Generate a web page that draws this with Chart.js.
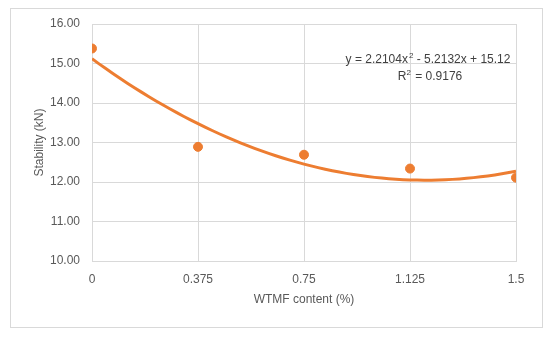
<!DOCTYPE html>
<html>
<head>
<meta charset="utf-8">
<script src="https://cdn.jsdelivr.net/npm/chart.js@4.4.1/dist/chart.umd.min.js"></script>
<style>
  html, body { margin: 0; padding: 0; background: #fff; }
  #wrap { width: 550px; height: 338px; position: relative; }
</style>
</head>
<body>
<div id="wrap"><canvas id="stabilityChart"></canvas></div>
<script>
// Data
const xTicks = [0, 0.375, 0.75, 1.125, 1.5];
const wtmfContent = [0, 0.375, 0.75, 1.125, 1.5];
const stability = [15.38, 12.89, 12.69, 12.34, 12.11];
const yTicks = [10, 11, 12, 13, 14, 15, 16];
// Trendline coefficients as printed on the chart (a, b, c of ax^2 + bx + c)
const trendCoef = [2.2104, -5.2132, 15.12];
const trendLabel = 'y = 2.2104x';
const trendLabelRest = ' - 5.2132x + 15.12';
const r2Label = '0.9176';

const orange = '#ED7D31';
const grey = '#595959';
const fontFamily = "'Liberation Sans', Arial, sans-serif";

// trendline sampled along x through the printed polynomial
const trendPoints = [];
for (let i = 0; i <= 60; i++) {
    const x = 1.5 * i / 60;
    trendPoints.push({ x: x, y: trendCoef[0] * x * x + trendCoef[1] * x + trendCoef[2] });
}

const framePlugin = {
    id: 'frame',
    beforeDraw(chart) {
        const ctx = chart.ctx;
        ctx.save();
        ctx.fillStyle = '#fff';
        ctx.fillRect(0, 0, chart.width, chart.height);
        ctx.strokeStyle = '#d9d9d9';
        ctx.lineWidth = 1;
        ctx.strokeRect(10.5, 8.5, 532, 319);
        ctx.restore();
    },
    afterDraw(chart) {
        // trendline equation label
        const ctx = chart.ctx;
        ctx.save();
        ctx.fillStyle = '#404040';
        ctx.textBaseline = 'alphabetic';
        ctx.font = '12px ' + fontFamily;
        const w1 = ctx.measureText(trendLabel).width;
        const w2 = ctx.measureText(trendLabelRest).width;
        ctx.font = '8px ' + fontFamily;
        const ws = ctx.measureText('2').width + 1;
        let x = 428 - (w1 + ws + w2) / 2;
        ctx.font = '12px ' + fontFamily;
        ctx.fillText(trendLabel, x, 63);
        ctx.font = '8px ' + fontFamily;
        ctx.fillText('2', x + w1 + 1, 58);
        ctx.font = '12px ' + fontFamily;
        ctx.fillText(trendLabelRest, x + w1 + ws, 63);

        const r1 = ctx.measureText('R').width;
        const r3 = ctx.measureText(' = ' + r2Label).width;
        x = 430 - (r1 + ws + r3) / 2;
        ctx.fillText('R', x, 80);
        ctx.font = '8px ' + fontFamily;
        ctx.fillText('2', x + r1, 75);
        ctx.font = '12px ' + fontFamily;
        ctx.fillText(' = ' + r2Label, x + r1 + ws, 80);
        ctx.restore();
    }
};

new Chart(document.getElementById('stabilityChart'), {
    type: 'scatter',
    data: {
        datasets: [{
            label: 'Stability',
            data: wtmfContent.map((x, i) => ({ x: x, y: stability[i] })),
            backgroundColor: orange,
            borderColor: orange,
            pointRadius: 4.5,
            pointHoverRadius: 4.5,
            order: 1
        }, {
            label: 'Trend',
            type: 'line',
            data: trendPoints,
            borderColor: orange,
            borderWidth: 3,
            pointRadius: 0,
            tension: 0,
            fill: false,
            order: 2
        }]
    },
    options: {
        responsive: true,
        maintainAspectRatio: false,
        animation: false,
        layout: {
            padding: { left: 28, right: 34, top: 24, bottom: 31 }
        },
        plugins: {
            legend: { display: false },
            tooltip: { enabled: false }
        },
        scales: {
            x: {
                type: 'linear',
                min: 0,
                max: 1.5,
                afterBuildTicks: function(axis) {
                    axis.ticks = xTicks.map(v => ({ value: v }));
                },
                afterFit: function(axis) {
                    axis.height = 46;
                },
                grid: {
                    color: '#d9d9d9',
                    drawTicks: false
                },
                border: { color: '#d9d9d9' },
                ticks: {
                    color: grey,
                    padding: 11,
                    font: { size: 12, family: fontFamily },
                    callback: v => String(v)
                },
                title: {
                    display: true,
                    text: 'WTMF content (%)',
                    color: grey,
                    font: { size: 12, family: fontFamily },
                    padding: { top: 4, bottom: 0 }
                }
            },
            y: {
                min: 10,
                max: 16,
                afterBuildTicks: function(axis) {
                    axis.ticks = yTicks.map(v => ({ value: v }));
                },
                afterFit: function(axis) {
                    axis.width = 64;
                },
                grid: {
                    color: '#d9d9d9',
                    drawTicks: false
                },
                border: { color: '#d9d9d9' },
                ticks: {
                    color: grey,
                    padding: 12,
                    font: { size: 12, family: fontFamily },
                    callback: v => v.toFixed(2)
                },
                title: {
                    display: true,
                    text: 'Stability (kN)',
                    color: grey,
                    font: { size: 12, family: fontFamily },
                    padding: { bottom: 4 }
                }
            }
        }
    },
    plugins: [framePlugin]
});
</script>
</body>
</html>
